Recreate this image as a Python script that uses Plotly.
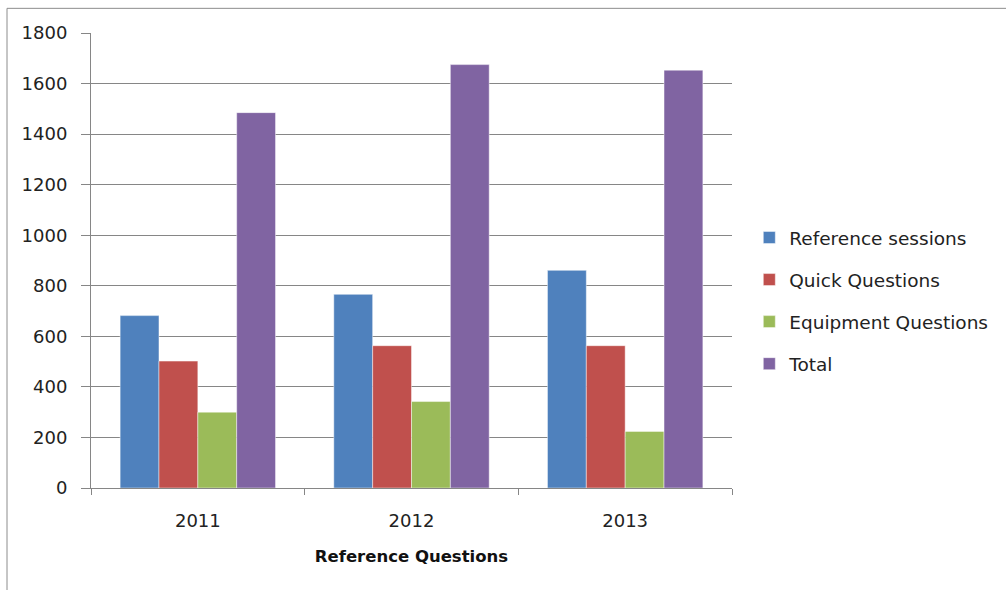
import plotly.graph_objects as go

# Yearly counts of reference desk activity
years = ["2011", "2012", "2013"]
reference_sessions = [682, 766, 861]
quick_questions = [502, 563, 563]
equipment_questions = [300, 342, 224]
total = [1485, 1675, 1653]

series = [
    ("Reference sessions", reference_sessions, "#4F81BD"),
    ("Quick Questions", quick_questions, "#C0504D"),
    ("Equipment Questions", equipment_questions, "#9BBB59"),
    ("Total", total, "#8064A2"),
]

fig = go.Figure()
for i, (name, vals, color) in enumerate(series):
    fig.add_trace(go.Bar(
        x=years, y=vals, name=name,
        marker=dict(color=color, line=dict(color="rgba(255,255,255,0.45)", width=1)),
        legendgroup=f"g{i}",
    ))

grid = "#868686"
font_main = "DejaVu Sans"

fig.update_layout(
    width=1006, height=590,
    margin=dict(l=91, r=274, t=33, b=102),
    paper_bgcolor="white", plot_bgcolor="white",
    barmode="group", bargap=0.2727, bargroupgap=0,
    font=dict(family=font_main, size=17, color="#222222"),
    showlegend=True,
    legend=dict(
        x=1.027, xanchor="left", y=0.411, yanchor="middle",
        font=dict(family=font_main, size=18.5, color="#222222"),
        traceorder="grouped", tracegroupgap=15,
        bgcolor="rgba(0,0,0,0)",
    ),
    xaxis=dict(
        type="category",
        tickson="boundaries",
        ticks="outside", ticklen=6, tickcolor=grid, tickwidth=1,
        showline=True, linecolor=grid, linewidth=1,
        showgrid=False,
        tickfont=dict(family=font_main, size=18, color="#222222"),
        ticklabelstandoff=16,
        title=dict(text="<b>Reference Questions</b>", standoff=20,
                   font=dict(family=font_main, size=16.5, color="#111111")),
    ),
    yaxis=dict(
        range=[0, 1800], dtick=200, tick0=0,
        ticks="outside", ticklen=9, tickcolor=grid, tickwidth=1,
        showline=True, linecolor=grid, linewidth=1,
        showgrid=True, gridcolor=grid, gridwidth=1.2,
        zeroline=False,
        tickfont=dict(family=font_main, size=18, color="#222222"),
        ticklabelstandoff=10,
    ),
    shapes=[dict(
        type="rect", xref="paper", yref="paper",
        x0=(7 - 91) / 641, x1=1.6, y0=-1.0, y1=(488.3 - 8) / 455.6,
        line=dict(color="#8c8c8c", width=1), fillcolor="rgba(0,0,0,0)",
        layer="below",
    )],
)

fig.write_html("out.html")
